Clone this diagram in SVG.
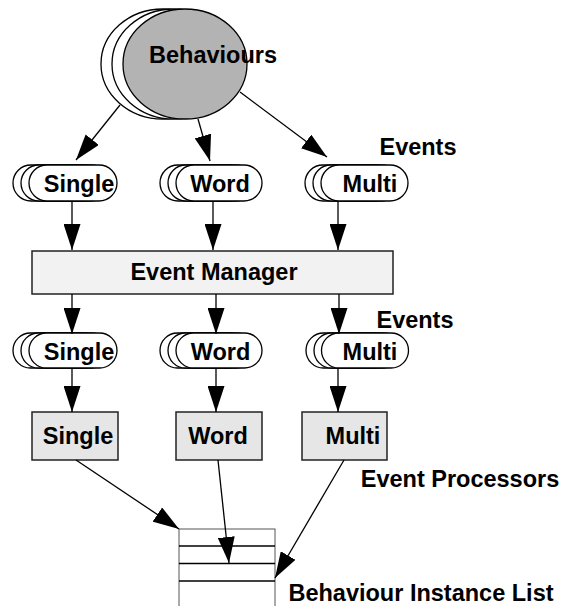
<svg xmlns="http://www.w3.org/2000/svg" width="572" height="606" viewBox="0 0 572 606">
<style>
text{font-family:"Liberation Sans",Arial,sans-serif;font-weight:bold;font-size:23.5px;fill:#000;text-anchor:middle}
.pill{fill:#fff;stroke:#000;stroke-width:1.3}
.box{stroke:#222;stroke-width:1.5}
.c{stroke:#000;stroke-width:1.3;fill:none;marker-end:url(#ah)}
</style>
<defs>
<marker id="ah" markerUnits="userSpaceOnUse" markerWidth="27" markerHeight="17" refX="26" refY="8.5" orient="auto" viewBox="0 0 27 17">
<path d="M0,0 L26,8.5 L0,17 z" fill="#000"/>
</marker>
</defs>
<rect width="572" height="606" fill="#fff"/>

<g id="behaviours">
<ellipse cx="163" cy="64" rx="62" ry="55" fill="#fff" stroke="#000" stroke-width="1.3"/>
<ellipse cx="174" cy="64" rx="62" ry="55" fill="#fff" stroke="#000" stroke-width="1.3"/>
<ellipse cx="185" cy="64" rx="62" ry="55" fill="#b3b3b3" stroke="#000" stroke-width="1.3"/>
<text x="213" y="63">Behaviours</text>
</g>

<g id="events-label-top"><text x="418" y="155">Events</text></g>

<g id="ev-single-top">
<rect class="pill" x="13" y="165" width="88" height="36" rx="18"/>
<rect class="pill" x="21" y="165" width="88" height="36" rx="18"/>
<rect class="pill" x="29" y="165" width="88" height="36" rx="18"/>
<text x="79" y="192">Single</text>
</g>
<g id="ev-word-top">
<rect class="pill" x="160" y="165" width="86" height="36" rx="18"/>
<rect class="pill" x="168" y="165" width="86" height="36" rx="18"/>
<rect class="pill" x="176" y="165" width="86" height="36" rx="18"/>
<text x="220" y="192">Word</text>
</g>
<g id="ev-multi-top">
<rect class="pill" x="305" y="165" width="87" height="36" rx="18"/>
<rect class="pill" x="313" y="165" width="87" height="36" rx="18"/>
<rect class="pill" x="321" y="165" width="87" height="36" rx="18"/>
<text x="370" y="192">Multi</text>
</g>

<g id="event-manager">
<rect class="box" x="32" y="251" width="361" height="43" fill="#f2f2f2"/>
<text x="214" y="280">Event Manager</text>
</g>

<g id="events-label-mid"><text x="415" y="328">Events</text></g>

<g id="ev-single-mid">
<rect class="pill" x="13" y="333" width="88" height="35" rx="17.5"/>
<rect class="pill" x="21" y="333" width="88" height="35" rx="17.5"/>
<rect class="pill" x="29" y="333" width="88" height="35" rx="17.5"/>
<text x="79" y="360">Single</text>
</g>
<g id="ev-word-mid">
<rect class="pill" x="160" y="333" width="86" height="35" rx="17.5"/>
<rect class="pill" x="168" y="333" width="86" height="35" rx="17.5"/>
<rect class="pill" x="176" y="333" width="86" height="35" rx="17.5"/>
<text x="220.5" y="360">Word</text>
</g>
<g id="ev-multi-mid">
<rect class="pill" x="306" y="333" width="87" height="35" rx="17.5"/>
<rect class="pill" x="314" y="333" width="87" height="35" rx="17.5"/>
<rect class="pill" x="321.5" y="333" width="87" height="35" rx="17.5"/>
<text x="370" y="360">Multi</text>
</g>

<g id="proc-single">
<rect class="box" x="32" y="412" width="86" height="48" fill="#e6e6e6"/>
<text x="78" y="444">Single</text>
</g>
<g id="proc-word">
<rect class="box" x="176" y="412" width="86" height="48" fill="#e6e6e6"/>
<text x="218" y="444">Word</text>
</g>
<g id="proc-multi">
<rect class="box" x="302" y="412" width="85" height="48" fill="#e6e6e6"/>
<text x="353" y="444">Multi</text>
</g>
<g id="event-processors-label"><text x="460" y="487">Event Processors</text></g>

<g id="instance-list">
<rect x="179" y="529" width="96" height="80" fill="#fff" stroke="#555" stroke-width="1"/>
<line x1="179" y1="546" x2="275" y2="546" stroke="#000" stroke-width="1.3"/>
<line x1="179" y1="563.5" x2="275" y2="563.5" stroke="#000" stroke-width="1.3"/>
<line x1="179" y1="581" x2="275" y2="581" stroke="#000" stroke-width="1.3"/>
<text x="421" y="601">Behaviour Instance List</text>
</g>

<g id="connectors">
<line class="c" x1="120" y1="105" x2="76" y2="160"/>
<line class="c" x1="198" y1="119" x2="210" y2="161"/>
<line class="c" x1="240" y1="92" x2="327" y2="157"/>
<line class="c" x1="72" y1="201" x2="72" y2="250"/>
<line class="c" x1="213" y1="201" x2="213" y2="250"/>
<line class="c" x1="338" y1="201" x2="338" y2="250"/>
<line class="c" x1="72" y1="294" x2="72" y2="334"/>
<line class="c" x1="216" y1="294" x2="216" y2="334"/>
<line class="c" x1="339" y1="294" x2="339" y2="334"/>
<line class="c" x1="72" y1="368" x2="72" y2="412"/>
<line class="c" x1="216" y1="368" x2="216" y2="412"/>
<line class="c" x1="338" y1="368" x2="338" y2="412"/>
<line class="c" x1="76" y1="460" x2="179" y2="529"/>
<line class="c" x1="218" y1="460" x2="229" y2="563"/>
<line class="c" x1="344" y1="460" x2="275" y2="578"/>
</g>
</svg>
